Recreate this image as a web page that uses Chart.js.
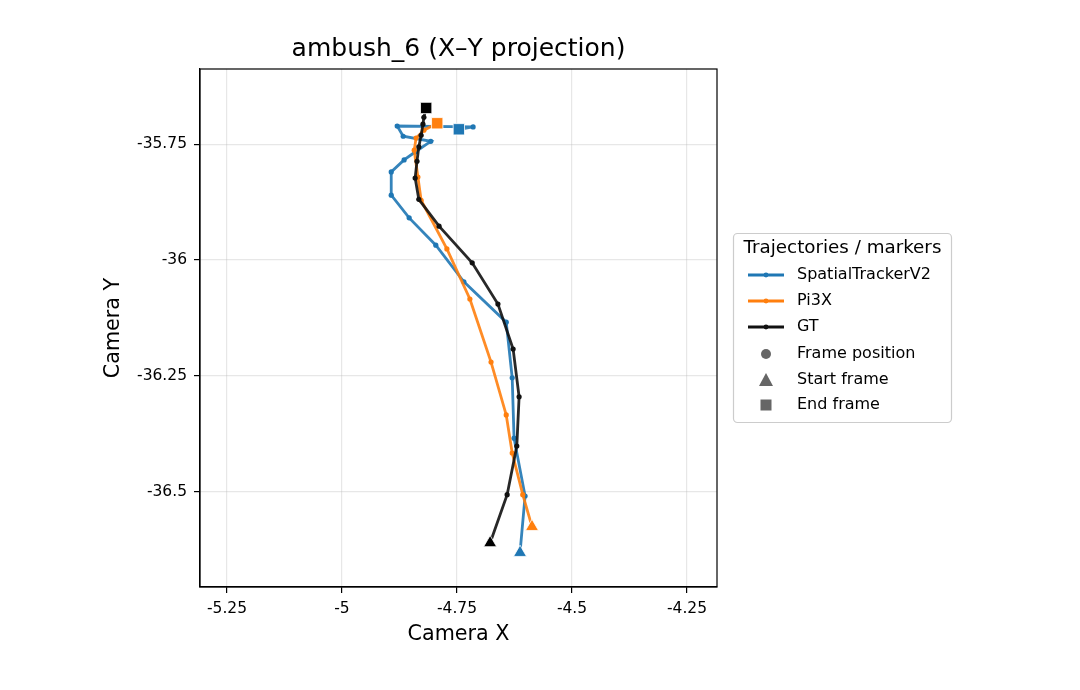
<!DOCTYPE html>
<html>
<head>
<meta charset="utf-8">
<script src="https://cdn.jsdelivr.net/npm/chart.js@4.4.1/dist/chart.umd.min.js"></script>
<style>
  html, body { margin: 0; padding: 0; background: #fff; }
  #wrap { width: 1080px; height: 690px; }
</style>
</head>
<body>
<div id="wrap"><canvas id="chart" width="1080" height="690"></canvas></div>
<script>
// Trajectory data (start frame -> end frame)
const stX = [-4.613, -4.602, -4.626, -4.630, -4.643, -4.735, -4.796, -4.854, -4.893, -4.893, -4.865, -4.841, -4.807, -4.867, -4.880, -4.715, -4.746];
const stY = [-36.631, -36.509, -36.384, -36.254, -36.134, -36.047, -35.968, -35.909, -35.860, -35.810, -35.784, -35.767, -35.744, -35.733, -35.711, -35.713, -35.718];

const piX = [-4.587, -4.607, -4.630, -4.643, -4.676, -4.722, -4.772, -4.828, -4.835, -4.843, -4.839, -4.822, -4.793];
const piY = [-36.575, -36.506, -36.416, -36.334, -36.220, -36.084, -35.976, -35.871, -35.821, -35.763, -35.737, -35.720, -35.705];

const gtX = [-4.678, -4.641, -4.620, -4.615, -4.628, -4.661, -4.717, -4.789, -4.833, -4.841, -4.837, -4.833, -4.828, -4.824, -4.822, -4.817];
const gtY = [-36.610, -36.506, -36.401, -36.295, -36.192, -36.095, -36.006, -35.927, -35.869, -35.823, -35.787, -35.756, -35.731, -35.707, -35.692, -35.672];

const xTicks = [-5.25, -5, -4.75, -4.5, -4.25];
const yTicks = [-35.75, -36, -36.25, -36.5];

const FONT = "'DejaVu Sans', sans-serif";
const BLUE = '#1f77b4', ORANGE = '#ff7f0e', BLACK = '#111111';

function pts(xs, ys) {
    return xs.map((x, i) => ({ x, y: ys[i] }));
}

function trajectory(label, xs, ys, color, order) {
    return {
        label,
        data: pts(xs, ys),
        showLine: true,
        borderColor: color + 'e6',
        backgroundColor: color,
        borderWidth: 2.8,
        pointRadius: 2.6,
        pointBorderWidth: 0,
        order
    };
}

function marker(label, x, y, color, style, r) {
    return {
        label,
        data: [{ x, y }],
        showLine: false,
        pointStyle: style,
        pointRadius: r,
        backgroundColor: color,
        borderColor: '#ffffff',
        borderWidth: 0.8,
        order: 0
    };
}

const last = a => a[a.length - 1];

const datasets = [
    trajectory('SpatialTrackerV2', stX, stY, BLUE, 3),
    trajectory('Pi3X', piX, piY, ORANGE, 2),
    trajectory('GT', gtX, gtY, BLACK, 1),
    marker('ST start', stX[0], stY[0], BLUE, 'triangle', 7.5),
    marker('Pi start', piX[0], piY[0], ORANGE, 'triangle', 7.5),
    marker('GT start', gtX[0], gtY[0], '#000', 'triangle', 7.5),
    marker('ST end', last(stX), last(stY), BLUE, 'rect', 8),
    marker('Pi end', last(piX), last(piY), ORANGE, 'rect', 8),
    marker('GT end', last(gtX), last(gtY), '#000', 'rect', 8)
];

const fmt = v => String(+Number(v).toFixed(4));

// frame on all four sides + matplotlib-like legend
const framePlugin = {
    id: 'frame',
    afterDraw(chart) {
        const { ctx, chartArea: a } = chart;
        ctx.save();
        ctx.strokeStyle = '#000';
        ctx.lineWidth = 1.2;
        ctx.strokeRect(a.left, a.top, a.right - a.left, a.bottom - a.top);

        // legend box
        const bx = 733.5, by = 233.5, bw = 218, bh = 189;
        ctx.fillStyle = 'rgba(255,255,255,0.8)';
        ctx.strokeStyle = '#cccccc';
        ctx.lineWidth = 1.2;
        ctx.beginPath();
        ctx.roundRect(bx, by, bw, bh, 4);
        ctx.fill();
        ctx.stroke();

        ctx.fillStyle = '#000';
        ctx.textBaseline = 'middle';
        ctx.textAlign = 'center';
        ctx.font = '18.3px ' + FONT;
        ctx.fillText('Trajectories / markers', bx + bw / 2, 248);

        const rows = [
            { t: 'SpatialTrackerV2', kind: 'line', c: BLUE, y: 275 },
            { t: 'Pi3X', kind: 'line', c: ORANGE, y: 301 },
            { t: 'GT', kind: 'line', c: BLACK, y: 327 },
            { t: 'Frame position', kind: 'circle', c: '#666', y: 354 },
            { t: 'Start frame', kind: 'triangle', c: '#666', y: 380 },
            { t: 'End frame', kind: 'rect', c: '#666', y: 405 }
        ];
        ctx.textAlign = 'left';
        ctx.font = '16px ' + FONT;
        rows.forEach(r => {
            const cx = 766;
            ctx.fillStyle = r.c;
            ctx.strokeStyle = r.c;
            if (r.kind === 'line') {
                ctx.lineWidth = 2.8;
                ctx.beginPath();
                ctx.moveTo(748, r.y);
                ctx.lineTo(784, r.y);
                ctx.stroke();
                ctx.beginPath();
                ctx.arc(cx, r.y, 2.4, 0, Math.PI * 2);
                ctx.fill();
            } else if (r.kind === 'circle') {
                ctx.beginPath();
                ctx.arc(cx, r.y, 5, 0, Math.PI * 2);
                ctx.fill();
            } else if (r.kind === 'triangle') {
                ctx.beginPath();
                ctx.moveTo(cx, r.y - 7);
                ctx.lineTo(cx + 7, r.y + 6);
                ctx.lineTo(cx - 7, r.y + 6);
                ctx.closePath();
                ctx.fill();
            } else {
                ctx.fillRect(cx - 5.5, r.y - 5.5, 11, 11);
            }
            ctx.fillStyle = '#000';
            ctx.fillText(r.t, 797, r.y);
        });
        ctx.restore();
    }
};

new Chart(document.getElementById('chart').getContext('2d'), {
    type: 'scatter',
    data: { datasets },
    options: {
        responsive: false,
        animation: false,
        layout: { padding: { left: 98, right: 363, top: 0, bottom: 43 } },
        plugins: {
            legend: { display: false },
            tooltip: { enabled: false },
            title: {
                display: true,
                text: 'ambush_6 (X\u2013Y projection)',
                fullSize: false,
                color: '#000',
                font: { family: FONT, size: 25, weight: 'normal' },
                padding: { top: 34, bottom: 5 }
            }
        },
        scales: {
            x: {
                type: 'linear',
                min: -5.3087,
                max: -4.1848,
                afterFit: s => { s.height = 60; },
                afterBuildTicks: s => { s.ticks = xTicks.map(v => ({ value: v })); },
                ticks: {
                    includeBounds: false,
                    color: '#000',
                    padding: 7,
                    maxRotation: 0,
                    font: { family: FONT, size: 15.5 },
                    callback: fmt
                },
                grid: { color: 'rgba(176,176,176,0.3)', lineWidth: 1.2, tickColor: '#000', tickLength: 6, tickWidth: 1.2 },
                border: { color: '#000', width: 1.2 },
                title: { display: true, text: 'Camera X', color: '#000', padding: 0, font: { family: FONT, size: 20.7 } }
            },
            y: {
                type: 'linear',
                min: -36.705,
                max: -35.588,
                afterFit: s => { s.width = 102; },
                afterBuildTicks: s => { s.ticks = yTicks.map(v => ({ value: v })); },
                ticks: {
                    includeBounds: false,
                    color: '#000',
                    padding: 7,
                    font: { family: FONT, size: 15.5 },
                    callback: fmt
                },
                grid: { color: 'rgba(176,176,176,0.3)', lineWidth: 1.2, tickColor: '#000', tickLength: 6, tickWidth: 1.2 },
                border: { color: '#000', width: 1.2 },
                title: { display: true, text: 'Camera Y', color: '#000', padding: { top: 3, bottom: 0 }, font: { family: FONT, size: 20.7 } }
            }
        }
    },
    plugins: [framePlugin]
});
</script>
</body>
</html>
